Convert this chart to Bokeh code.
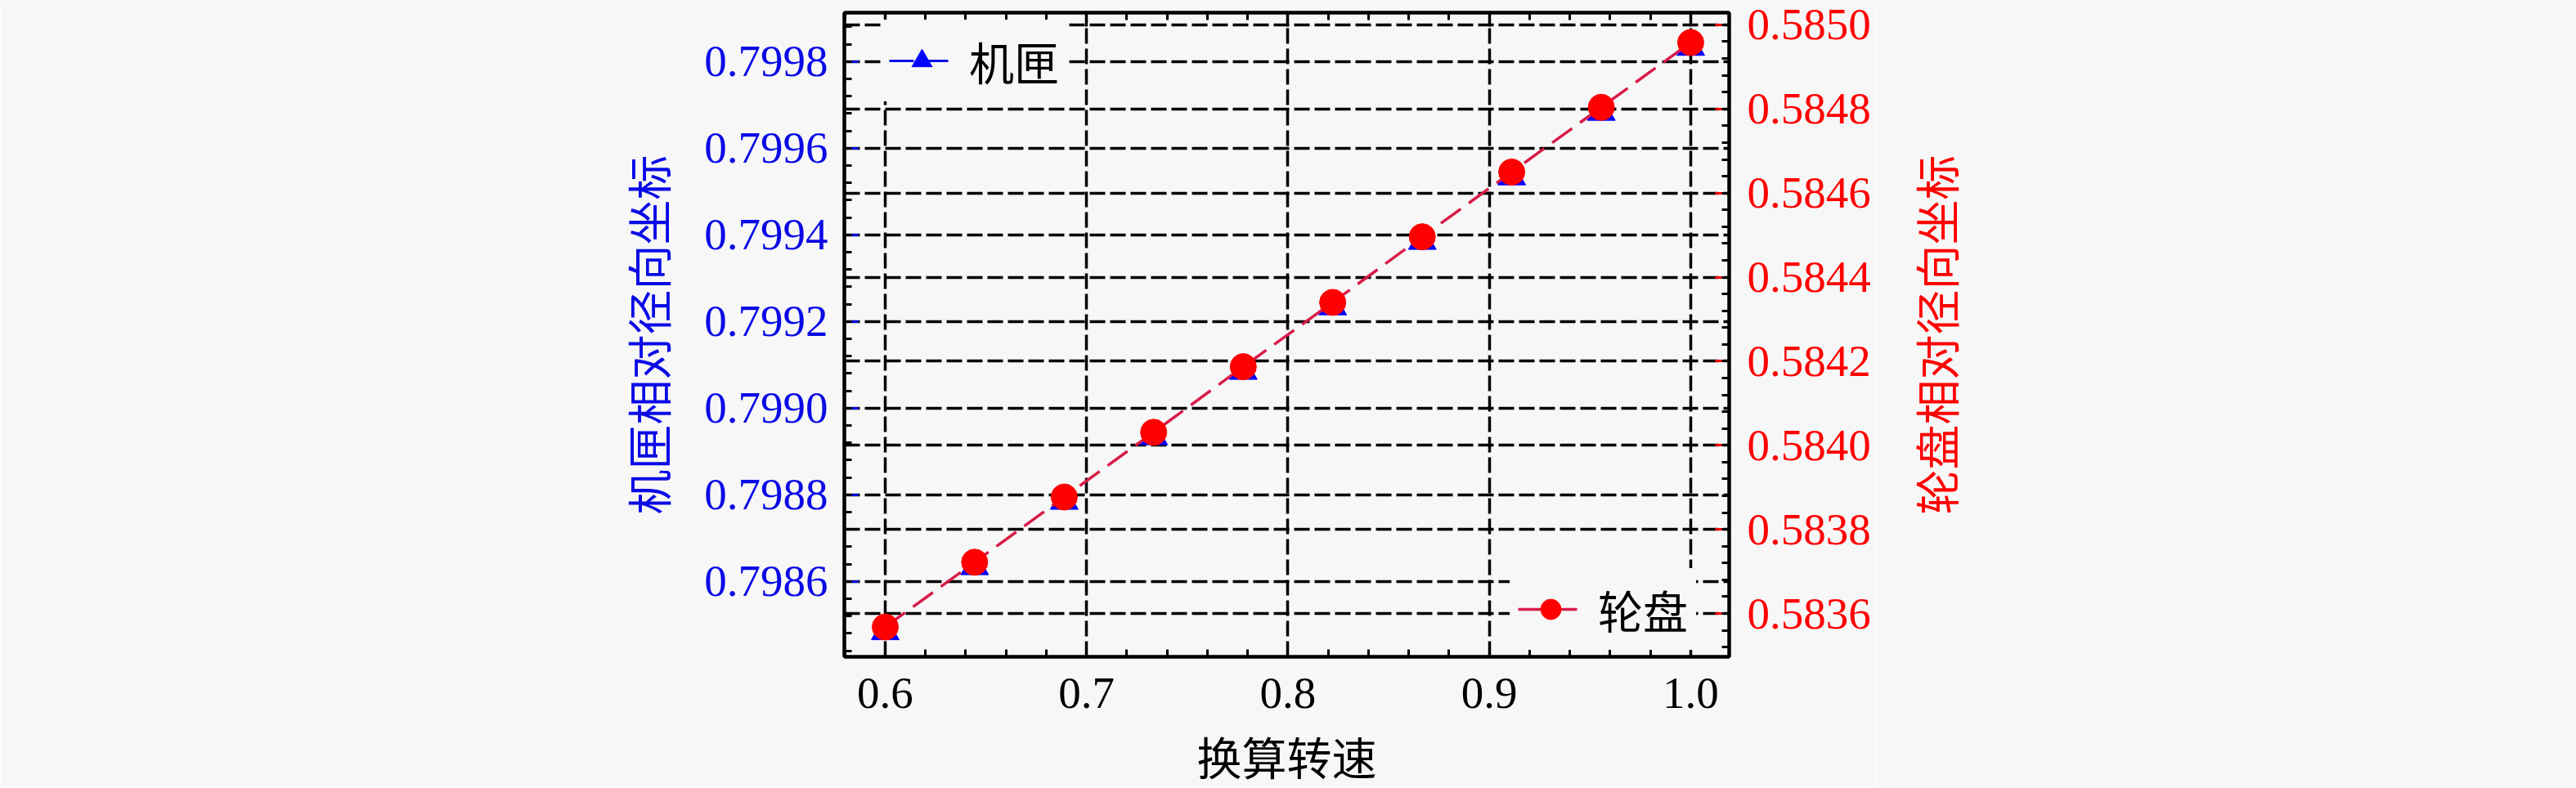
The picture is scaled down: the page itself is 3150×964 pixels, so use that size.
import numpy as np
from bokeh.plotting import figure
from bokeh.layouts import row
from bokeh.models import (Range1d, LinearAxis, FixedTicker, PrintfTickFormatter,
                          CustomJSTickFormatter, Grid, Legend, LegendItem)
from bokeh.embed import file_html
from bokeh.resources import INLINE

# ---- data ----
speed = [0.6, 0.6444, 0.6889, 0.7333, 0.7778, 0.8222, 0.8667, 0.9111, 0.9556, 1.0]
casing = [0.798484, 0.798634, 0.798785, 0.798934, 0.799085,
          0.799234, 0.799385, 0.799534, 0.799683, 0.799833]
disk = [0.583568, 0.583722, 0.583877, 0.584031, 0.584187,
        0.584340, 0.584496, 0.584650, 0.584804, 0.584958]

x_ticks = [0.6, 0.7, 0.8, 0.9, 1.0]
left_ticks = [0.7986, 0.7988, 0.7990, 0.7992, 0.7994, 0.7996, 0.7998]
right_ticks = [0.5836, 0.5838, 0.5840, 0.5842, 0.5844, 0.5846, 0.5848, 0.5850]

x_label = "换算转速"
left_label = "机匣相对径向坐标"
right_label = "轮盘相对径向坐标"
casing_name = "机匣"
disk_name = "轮盘"

BG = "#f7f7f7"
BLUE = "#0a0ae6"
RED = "#ff0000"
LINE_RED = "#d81b48"
NUM_FONT = "Liberation Serif"
CJK_FONT = "Noto Sans CJK SC"
STACK_FONT = "Liberation Serif, Noto Sans CJK SC"
NUM_SIZE = "55px"
CJK_SIZE = "55px"

FRAME_W, FRAME_H = 1082, 788
LEFT_B, TOP_B, RIGHT_B = 1032, 15, 180
MAIN_W = LEFT_B + FRAME_W + RIGHT_B
SIDE_W = 3150 - MAIN_W
SIDE_LEFT_B = 121


def minor_of(ticks, n=5):
    step = (ticks[1] - ticks[0]) / n
    lo = ticks[0] - step * n
    hi = ticks[-1] + step * n
    return [float(v) for v in np.arange(lo, hi + step / 2, step)]


x_ticker = FixedTicker(ticks=x_ticks, minor_ticks=minor_of(x_ticks))
left_ticker = FixedTicker(ticks=left_ticks, minor_ticks=minor_of(left_ticks))
right_ticker = FixedTicker(ticks=right_ticks, minor_ticks=minor_of(right_ticks))

p = figure(frame_width=FRAME_W, frame_height=FRAME_H,
           x_range=Range1d(0.5797, 1.0191),
           y_range=Range1d(0.798426, 0.799913),
           output_backend="svg", toolbar_location=None,
           min_border_left=LEFT_B, min_border_right=RIGHT_B,
           min_border_top=TOP_B, min_border_bottom=140,
           background_fill_color=BG, border_fill_color=BG)
p.extra_y_ranges = {"right": Range1d(0.583497, 0.585029)}

p.outline_line_color = "black"
p.outline_line_width = 4


def style_axis(ax, major_color, label_color):
    ax.axis_line_color = "black"
    ax.axis_line_width = 4
    ax.major_tick_in = 17
    ax.major_tick_out = 0
    ax.major_tick_line_width = 3
    ax.major_tick_line_color = major_color
    ax.minor_tick_in = 9
    ax.minor_tick_out = 0
    ax.minor_tick_line_width = 3
    ax.minor_tick_line_color = "black"
    ax.major_label_text_font = NUM_FONT
    ax.major_label_text_font_size = NUM_SIZE
    ax.major_label_text_color = label_color
    ax.axis_label_text_font = CJK_FONT
    ax.axis_label_text_font_size = CJK_SIZE
    ax.axis_label_text_font_style = "normal"


# bottom axis
xa = p.xaxis[0]
xa.ticker = x_ticker
xa.formatter = PrintfTickFormatter(format="%.1f")
xa.axis_label = x_label
style_axis(xa, "black", "black")
xa.axis_label_text_font = STACK_FONT
xa.axis_label_text_color = "black"
xa.major_label_standoff = 26
xa.axis_label_standoff = 30

# left axis
ya = p.yaxis[0]
ya.ticker = left_ticker
ya.formatter = PrintfTickFormatter(format="%.4f")
ya.axis_label = left_label
style_axis(ya, BLUE, BLUE)
ya.axis_label_text_color = BLUE
ya.major_label_standoff = 20
ya.axis_label_standoff = 27

# right axis (ticks and numbers)
ra = LinearAxis(y_range_name="right", ticker=right_ticker,
                formatter=PrintfTickFormatter(format="%.4f"))
style_axis(ra, RED, RED)
ra.major_label_standoff = 22
p.add_layout(ra, "right")

# top axis (ticks only)
ta = LinearAxis(ticker=x_ticker, formatter=CustomJSTickFormatter(code="return ''"))
style_axis(ta, "black", "black")
ta.major_label_text_font_size = "1px"
ta.major_label_standoff = 0
p.add_layout(ta, "above")

# grids
for g in (p.xgrid[0], p.ygrid[0]):
    g.grid_line_color = "black"
    g.grid_line_width = 3.5
    g.grid_line_dash = "19 6"
p.xgrid[0].ticker = x_ticker
p.ygrid[0].ticker = left_ticker
rg = Grid(dimension=1, ticker=right_ticker, y_range_name="right",
          grid_line_color="black", grid_line_width=3.5, grid_line_dash="19 6")
p.add_layout(rg)

# data
l1 = p.line(speed, casing, line_color=BLUE, line_width=3, line_dash="30 12")
l1.visible = False   # hidden under the red line in the reference
s1 = p.scatter(speed, casing, marker="triangle", size=34,
               fill_color="#0000ff", line_color="#0000ff")
l2 = p.line(speed, disk, y_range_name="right", line_color=LINE_RED,
            line_width=3.5, line_dash="30 12")
s2 = p.scatter(speed, disk, y_range_name="right", marker="circle", size=32,
               fill_color=RED, line_color=RED)


def make_legend(item, loc):
    lg = Legend(items=[item], location=loc)
    lg.background_fill_color = BG
    lg.background_fill_alpha = 1
    lg.border_line_alpha = 0
    lg.label_text_font = STACK_FONT
    lg.label_text_font_size = CJK_SIZE
    lg.label_text_color = "black"
    lg.glyph_width = 80
    lg.glyph_height = 62
    lg.label_standoff = 18
    lg.padding = 10
    lg.margin = 0
    lg.spacing = 0
    return lg


leg1 = make_legend(LegendItem(label=casing_name, renderers=[l1, s1]), (45, 679))
leg2 = make_legend(LegendItem(label=disk_name, renderers=[l2, s2]), (814, 8))
p.add_layout(leg1, "center")
p.add_layout(leg2, "center")

# right-hand title: a narrow companion figure whose left axis label reads bottom-to-top
p2 = figure(frame_width=SIDE_W - SIDE_LEFT_B - 5, frame_height=FRAME_H,
            x_range=Range1d(0, 1),
            y_range=Range1d(0.583497, 0.585029),
            output_backend="svg", toolbar_location=None, x_axis_location=None,
            min_border_left=SIDE_LEFT_B, min_border_right=5,
            min_border_top=TOP_B, min_border_bottom=161,
            background_fill_color=BG, border_fill_color=BG)
p2.outline_line_color = None
p2.xgrid.visible = False
p2.ygrid.visible = False
a2 = p2.yaxis[0]
a2.ticker = FixedTicker(ticks=right_ticks)
a2.formatter = CustomJSTickFormatter(code="return ''")
a2.axis_line_color = None
a2.major_tick_line_color = None
a2.minor_tick_line_color = None
a2.major_tick_out = 0
a2.major_tick_in = 0
a2.minor_tick_out = 0
a2.minor_tick_in = 0
a2.major_label_standoff = 0
a2.major_label_text_font_size = "1px"
a2.axis_label = right_label
a2.axis_label_text_font = CJK_FONT
a2.axis_label_text_font_size = CJK_SIZE
a2.axis_label_text_font_style = "normal"
a2.axis_label_text_color = RED
a2.axis_label_standoff = 10

layout = row(p, p2)
open("out.html", "w").write(file_html(layout, INLINE))
